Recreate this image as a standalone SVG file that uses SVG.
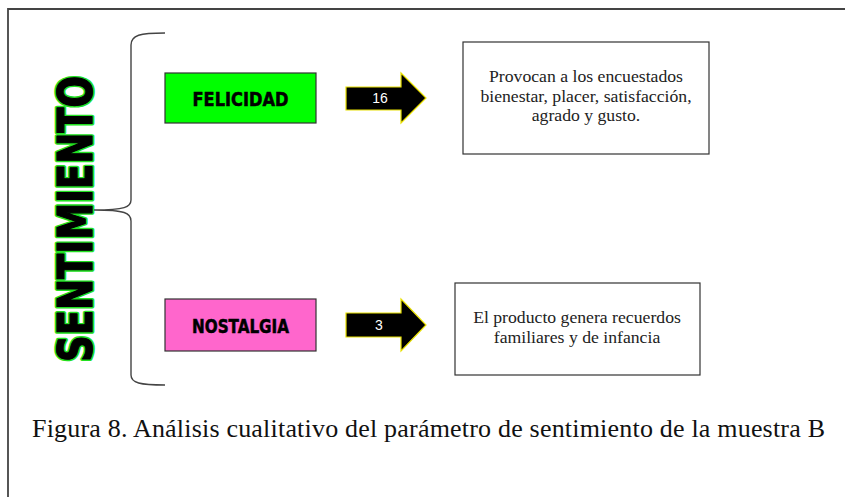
<svg xmlns="http://www.w3.org/2000/svg" xmlns:xlink="http://www.w3.org/1999/xlink" width="845" height="497" viewBox="0 0 845 497">
<style>
.box{stroke:#333;stroke-width:1.2}
.cat{font-family:"DejaVu Sans Condensed","Liberation Sans Narrow","DejaVu Sans",sans-serif;font-weight:bold;font-size:19.5px;fill:#000;stroke:#000;stroke-width:0.5;text-anchor:middle}
.desc{font-family:"Liberation Serif","Times New Roman",serif;font-size:17.7px;fill:#222;text-anchor:middle}
.num{font-family:"Liberation Sans",Arial,sans-serif;font-size:14px;fill:#fff;text-anchor:middle}
.arrow{fill:#000;stroke:#e8e000;stroke-width:1.2;stroke-linejoin:miter}
.brace{fill:none;stroke:#444;stroke-width:1.4}
.big{font-family:"DejaVu Sans Condensed","Liberation Sans Narrow","DejaVu Sans",sans-serif;font-weight:bold;font-size:48px;text-anchor:middle;stroke-linejoin:round}
.glow{fill:#22e022;stroke:#22e022;stroke-width:4.5}
.ink{fill:#000;stroke:#000;stroke-width:1.2}
</style>
<defs>
<text id="titleText" class="big" x="0" y="0" textLength="286" lengthAdjust="spacingAndGlyphs">SENTIMIENTO</text>
</defs>
<rect width="845" height="497" fill="#fff"/>
<path d="M8,497 L8,9 L845,9" fill="none" stroke="#444" stroke-width="1.8"/>
<g id="title" transform="translate(92,219) rotate(-90)">
<use xlink:href="#titleText" href="#titleText" class="glow"/>
<use xlink:href="#titleText" href="#titleText" class="ink"/>
</g>
<g id="felicidad">
<rect class="box" x="165" y="73" width="151" height="50" fill="#00ff00"/>
<text class="cat" x="240.5" y="106" textLength="96" lengthAdjust="spacingAndGlyphs">FELICIDAD</text>
</g>
<g id="nostalgia">
<rect class="box" x="165" y="299" width="151" height="52" fill="#ff66cc"/>
<text class="cat" x="240.5" y="333" textLength="97" lengthAdjust="spacingAndGlyphs">NOSTALGIA</text>
</g>
<g id="desc1">
<rect class="box" x="463" y="42" width="246" height="112" fill="#fff"/>
<text class="desc" x="586" y="82">Provocan a los encuestados</text>
<text class="desc" x="586" y="102">bienestar, placer, satisfacción,</text>
<text class="desc" x="586" y="121">agrado y gusto.</text>
</g>
<g id="desc2">
<rect class="box" x="455" y="283" width="245" height="92" fill="#fff"/>
<text class="desc" x="577" y="323">El producto genera recuerdos</text>
<text class="desc" x="577" y="343">familiares y de infancia</text>
</g>
<g id="connectors">
<path class="brace" d="M165,33 C140,33 131,35 131,45 L131,200 C131,207 125,210 94,210 C125,210 131,213 131,221 L131,375 C131,383 140,385 165,385"/>
<g id="arrow1">
<path class="arrow" d="M346,87 L401,87 L401,73 L426,98 L401,123 L401,110 L346,110 Z"/>
<text class="num" x="380" y="103">16</text>
</g>
<g id="arrow2">
<path class="arrow" d="M346,313 L401,313 L401,299 L426,325 L401,351 L401,337 L346,337 Z"/>
<text class="num" x="379" y="330">3</text>
</g>
</g>
<g id="caption">
<text x="32" y="437" font-family="'Liberation Serif','Times New Roman',serif" font-size="26" textLength="793" lengthAdjust="spacing" fill="#111">Figura 8. Análisis cualitativo del parámetro de sentimiento de la muestra B</text>
</g>
</svg>
